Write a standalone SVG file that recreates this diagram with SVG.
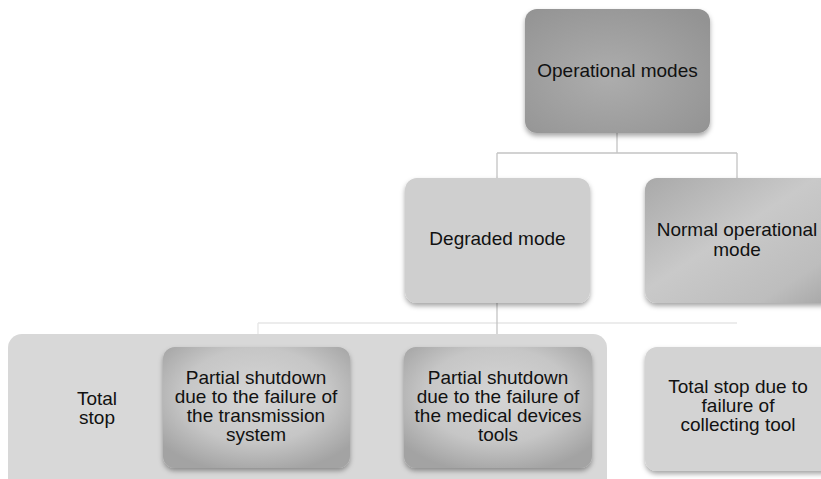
<svg xmlns="http://www.w3.org/2000/svg" width="821" height="479" viewBox="0 0 821 479">
<style>
text{font-family:"Liberation Sans",Arial,sans-serif;font-size:19px;fill:#111;text-anchor:middle}
.conn{fill:none;stroke:#c4c4c4;stroke-width:1.3}
.connl{fill:none;stroke:#e6e6e6;stroke-width:1.3}
</style>
<defs>
<filter id="sh" x="-10%" y="-10%" width="120%" height="130%">
<feDropShadow dx="0" dy="3" stdDeviation="2.5" flood-color="#000" flood-opacity="0.35"/>
</filter>
<radialGradient id="gTop" cx="0.45" cy="0.55" r="0.7">
<stop offset="0" stop-color="#adadad"/>
<stop offset="1" stop-color="#939393"/>
</radialGradient>
<linearGradient id="gNorm" x1="0" y1="0" x2="1" y2="1">
<stop offset="0" stop-color="#a9a9a9"/>
<stop offset="0.45" stop-color="#c9c9c9"/>
<stop offset="0.8" stop-color="#bdbdbd"/>
<stop offset="1" stop-color="#a5a5a5"/>
</linearGradient>
<radialGradient id="gPart" cx="0.5" cy="0.4" r="0.65">
<stop offset="0" stop-color="#d6d6d6"/>
<stop offset="0.6" stop-color="#c6c6c6"/>
<stop offset="1" stop-color="#a3a3a3"/>
</radialGradient>
</defs>

<g id="connectors">
<path class="conn" d="M617 133 V153 M497 153 H737 M497 153 V178 M737 153 V178"/>
<path class="connl" d="M258 323 H737 M258 323 V347"/>
<path class="conn" d="M497 303 V347"/>
</g>

<g id="group-degraded">
<rect x="8" y="334" width="599" height="160" rx="14" fill="#d8d8d8"/>
</g>

<g id="operational-modes">
<rect x="525" y="9" width="185" height="124" rx="12" fill="url(#gTop)" filter="url(#sh)"/>
<text x="617.5" y="77">Operational modes</text>
</g>

<g id="degraded-mode">
<rect x="405" y="178" width="185" height="125" rx="12" fill="#cfcfcf" filter="url(#sh)"/>
<text x="497.5" y="245">Degraded mode</text>
</g>

<g id="normal-mode">
<rect x="645" y="178" width="190" height="125" rx="12" fill="url(#gNorm)" filter="url(#sh)"/>
<text x="737" y="236">Normal operational</text>
<text x="737" y="256">mode</text>
</g>

<g id="total-stop">
<text x="97" y="405">Total</text>
<text x="97" y="424">stop</text>
</g>

<g id="partial-transmission">
<rect x="163" y="347" width="187" height="121" rx="12" fill="url(#gPart)" filter="url(#sh)"/>
<text x="256" y="384">Partial shutdown</text>
<text x="256" y="403">due to the failure of</text>
<text x="256" y="422">the transmission</text>
<text x="256" y="441">system</text>
</g>

<g id="partial-medical">
<rect x="404" y="347" width="188" height="121" rx="12" fill="url(#gPart)" filter="url(#sh)"/>
<text x="498" y="384">Partial shutdown</text>
<text x="498" y="403">due to the failure of</text>
<text x="498" y="422">the medical devices</text>
<text x="498" y="441">tools</text>
</g>

<g id="total-stop-collecting">
<rect x="645" y="347" width="190" height="124" rx="12" fill="#d3d3d3" filter="url(#sh)"/>
<text x="738" y="393">Total stop due to</text>
<text x="738" y="412">failure of</text>
<text x="738" y="431">collecting tool</text>
</g>
</svg>
